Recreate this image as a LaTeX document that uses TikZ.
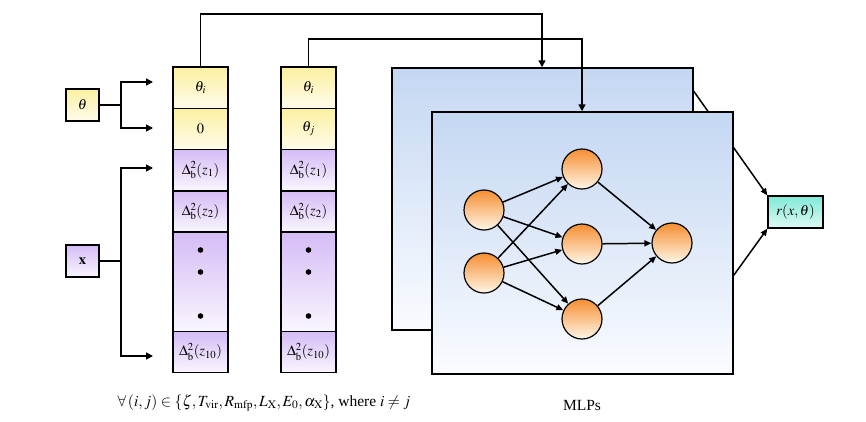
\documentclass[tikz,border=0pt]{standalone}
\usepackage{mathptmx}
\usepackage{fontspec}
\setmainfont{Liberation Serif}
\usetikzlibrary{arrows.meta,calc}
\definecolor{ytop}{RGB}{252,240,160}
\definecolor{ybot}{RGB}{255,252,236}
\definecolor{ptop}{RGB}{212,188,246}
\definecolor{pbot}{RGB}{250,246,255}
\definecolor{btop}{RGB}{196,215,242}
\definecolor{bbot}{RGB}{250,252,255}
\definecolor{otop}{RGB}{246,142,48}
\definecolor{obot}{RGB}{255,246,232}
\definecolor{ctop}{RGB}{128,234,214}
\definecolor{cbot}{RGB}{222,250,245}
\tikzset{
  cellbase/.style={draw=black, line width=1.4pt, minimum width=55pt, inner sep=0pt, font=\fontsize{14.5}{16}\selectfont},
  celly/.style={cellbase, top color=ytop, bottom color=ybot},
  cellp/.style={cellbase, top color=ptop, bottom color=pbot},
  mlpbox/.style={draw=black, line width=1.5pt, minimum width=301pt, minimum height=262pt, top color=btop, bottom color=bbot, inner sep=0pt},
  neuron/.style={circle, draw=black, line width=1.2pt, minimum size=40pt, top color=otop, bottom color=obot, inner sep=0pt},
  arr/.style={-{Triangle[length=7pt,width=7pt]}, line width=1.5pt},
  ln/.style={line width=1.5pt},
  narr/.style={-{Triangle[length=7pt,width=6pt]}, line width=1.5pt},
  captxt/.style={font=\fontsize{15.5}{17}\selectfont},
}
\begin{document}
\begin{tikzpicture}[x=1pt,y=-1pt]
\useasboundingbox (0,0) rectangle (866,421);
% column 1
\node[celly, minimum height=41.3pt] (c1a) at (200.5,87.6) {$\theta_i$};
\node[celly, minimum height=41.3pt] (c1b) at (200.5,128.9) {$0$};
\node[cellp, minimum height=41.3pt] (c1c) at (200.5,170.2) {$\Delta_{\mathrm{b}}^2(z_1)$};
\node[cellp, minimum height=41.3pt] (c1d) at (200.5,211.5) {$\Delta_{\mathrm{b}}^2(z_2)$};
\node[cellp, minimum height=99pt] (c1e) at (200.5,281.7) {};
\node[cellp, minimum height=41.3pt] (c1f) at (200.5,351.9) {$\Delta_{\mathrm{b}}^2(z_{10})$};
% column 2
\node[celly, minimum height=41.3pt] (c2a) at (308.5,87.6) {$\theta_i$};
\node[celly, minimum height=41.3pt] (c2b) at (308.5,128.9) {$\theta_j$};
\node[cellp, minimum height=41.3pt] (c2c) at (308.5,170.2) {$\Delta_{\mathrm{b}}^2(z_1)$};
\node[cellp, minimum height=41.3pt] (c2d) at (308.5,211.5) {$\Delta_{\mathrm{b}}^2(z_2)$};
\node[cellp, minimum height=99pt] (c2e) at (308.5,281.7) {};
\node[cellp, minimum height=41.3pt] (c2f) at (308.5,351.9) {$\Delta_{\mathrm{b}}^2(z_{10})$};
% dots
\foreach \yy in {250,272,316}{
  \fill (200.5,\yy) circle (2.8pt);
  \fill (308.5,\yy) circle (2.8pt);
}
% inputs
\node[celly, minimum width=33pt, minimum height=32pt] (theta) at (82.5,105) {$\theta$};
\node[cellp, minimum width=33pt, minimum height=32pt] (xin) at (82.5,261) {$\mathbf{x}$};
\coordinate (tj) at (121,105);
\coordinate (ta) at (153,82);
\coordinate (tb) at (153,128);
\draw[ln] (theta.east) -- (tj);
\draw[arr] (tj) |- (ta);
\draw[arr] (tj) |- (tb);
\coordinate (xj) at (121,261);
\coordinate (xa) at (153,168);
\coordinate (xb) at (153,356);
\draw[ln] (xin.east) -- (xj);
\draw[arr] (xj) |- (xa);
\draw[arr] (xj) |- (xb);
% MLP boxes
\node[mlpbox] (back) at (542.5,199) {};
\node[cellbase, minimum width=55pt, minimum height=32pt, top color=ctop, bottom color=cbot, line width=1.3pt] (out) at (795.5,212) {$r(x,\theta)$};
\draw[narr] ($(back.north east)+(0,24)$) -- (out.north west);
\draw[narr] (back.south east) -- (out.south west);
\coordinate (top1) at (542,14);
\draw[arr] (c1a.north) |- (top1) -- (top1 |- back.north);
\node[mlpbox] (front) at (582.5,243) {};
\coordinate (top2) at (582,39);
\draw[arr] (c2a.north) |- (top2) -- (top2 |- front.north);
% neurons
\node[neuron] (i1) at (484,210) {};
\node[neuron] (i2) at (484,273) {};
\node[neuron] (h1) at (582,169) {};
\node[neuron] (h2) at (582,244) {};
\node[neuron] (h3) at (582,319) {};
\node[neuron] (o1) at (672,243) {};
\foreach \a in {i1,i2}{
  \foreach \b in {h1,h2,h3}{
    \draw[narr] (\a) -- (\b);
  }
}
\foreach \b in {h1,h2,h3}{
  \draw[narr] (\b) -- (o1);
}
% captions
\node[captxt] (cap) at (264,403) {$\forall\,(i,j)\in\{\zeta, T_{\mathrm{vir}}, R_{\mathrm{mfp}}, L_{\mathrm{X}}, E_0, \alpha_{\mathrm{X}}\}$, where $i\neq j$};
\node[captxt] (mlp) at (582,405) {MLPs};
\end{tikzpicture}
\end{document}
